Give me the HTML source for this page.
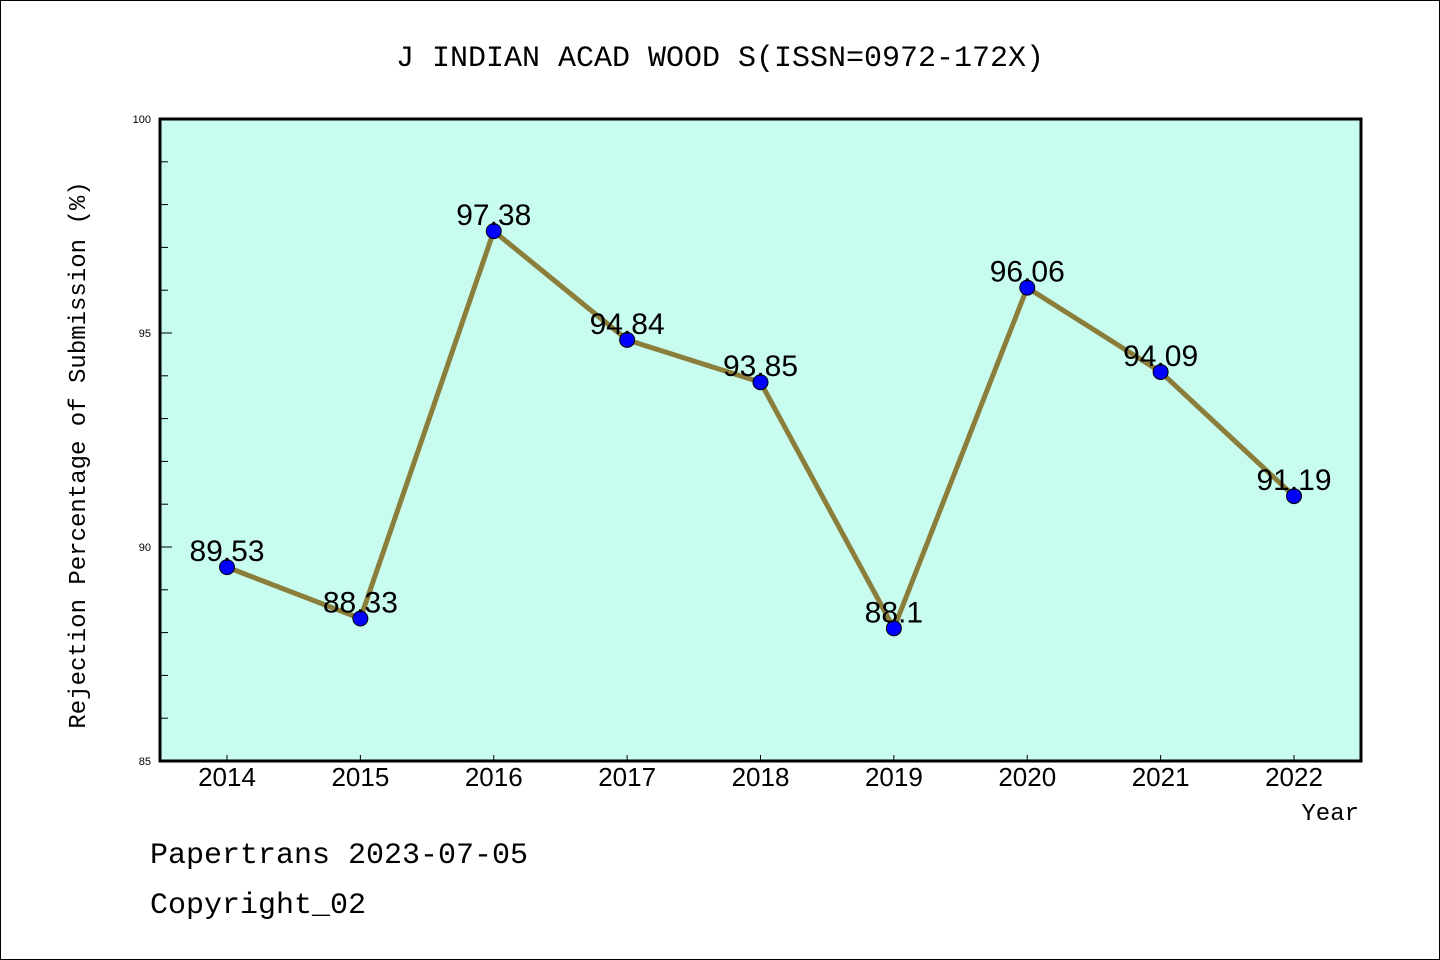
<!DOCTYPE html>
<html><head><meta charset="utf-8"><style>
html,body{margin:0;padding:0;background:#fff}
svg{display:block;font-family:"Liberation Sans","Noto Sans CJK SC",sans-serif}
</style></head><body>
<svg id="chart" width="1440" height="960" viewBox="0 0 1440 960">
<rect x="0.5" y="0.5" width="1439" height="959" fill="#fff" stroke="#000" stroke-width="1"/>
<text x="720" y="66" text-anchor="middle" font-size="30" font-family="'Liberation Mono',monospace">J INDIAN ACAD WOOD S(ISSN=0972-172X)</text>
<rect x="160" y="119" width="1201" height="642" fill="#c8fcef"/>
<g id="yaxis"></g>
<g id="xaxis"></g>
<g id="series"></g>
<rect x="160" y="119" width="1201" height="642" fill="none" stroke="#000" stroke-width="3"/>
<text transform="translate(85,455) rotate(-90)" text-anchor="middle" font-size="24" font-family="'Liberation Mono',monospace">Rejection Percentage of Submission (%)</text>
<text x="1359" y="820" text-anchor="end" font-size="24" font-family="'Liberation Mono',monospace">Year</text>
<text x="150" y="863" font-size="30" font-family="'Liberation Mono',monospace">Papertrans 2023-07-05</text>
<text x="150" y="913" font-size="30" font-family="'Liberation Mono',monospace">Copyright_02</text>
</svg>
<script>
const years = ["2014","2015","2016","2017","2018","2019","2020","2021","2022"];
const rates = [89.53, 88.33, 97.38, 94.84, 93.85, 88.1, 96.06, 94.09, 91.19];
const labels = ["89.53","88.33","97.38","94.84","93.85","88.1","96.06","94.09","91.19"];
const yTicks = [85, 90, 95, 100];
const yMin = 85, yMax = 100;
const NS = "http://www.w3.org/2000/svg";
const L = 160, R = 1361, T = 119, B = 761;
const x = i => 227 + i * (1294 - 227) / (years.length - 1);
const y = v => B - (v - yMin) / (yMax - yMin) * (B - T);
function mk(tag, attrs, parent) {
  const e = document.createElementNS(NS, tag);
  for (const k in attrs) e.setAttribute(k, attrs[k]);
  parent.appendChild(e);
  return e;
}
const ya = document.getElementById('yaxis');
for (let v = yMin; v <= yMax; v++) {
  const major = yTicks.includes(v);
  const t = mk('line', {x1: L, x2: L + (major ? 12 : 8), y1: y(v), y2: y(v), stroke: '#000', 'stroke-width': 1}, ya);
  
  
}
yTicks.forEach(v => {
  const t = mk('text', {x: 151, y: y(v) + 4, 'text-anchor': 'end', 'font-size': 11}, ya);
  t.textContent = v;
  
  
});
const xa = document.getElementById('xaxis');
years.forEach((yr, i) => {
  const t = mk('line', {x1: x(i), x2: x(i), y1: B, y2: B - 6, stroke: '#000', 'stroke-width': 1}, xa);
  
  
  const tl = mk('text', {x: x(i), y: 786, 'text-anchor': 'middle', 'font-size': 26}, xa);
  tl.textContent = yr;
  
  
});
const s = document.getElementById('series');
const line = mk('polyline', {points: rates.map((v, i) => x(i) + ',' + y(v)).join(' '), fill: 'none', stroke: '#8b7d3a', 'stroke-width': 5}, s);


rates.forEach((v, i) => {
  const c = mk('circle', {cx: x(i), cy: y(v), r: 7.5, fill: '#0000ff', stroke: '#000', 'stroke-width': 1}, s);
  
  
  const t = mk('text', {x: x(i), y: y(v) - 6, 'text-anchor': 'middle', 'font-size': 30}, s);
  t.textContent = labels[i];
  
  
});
</script>
</body></html>
